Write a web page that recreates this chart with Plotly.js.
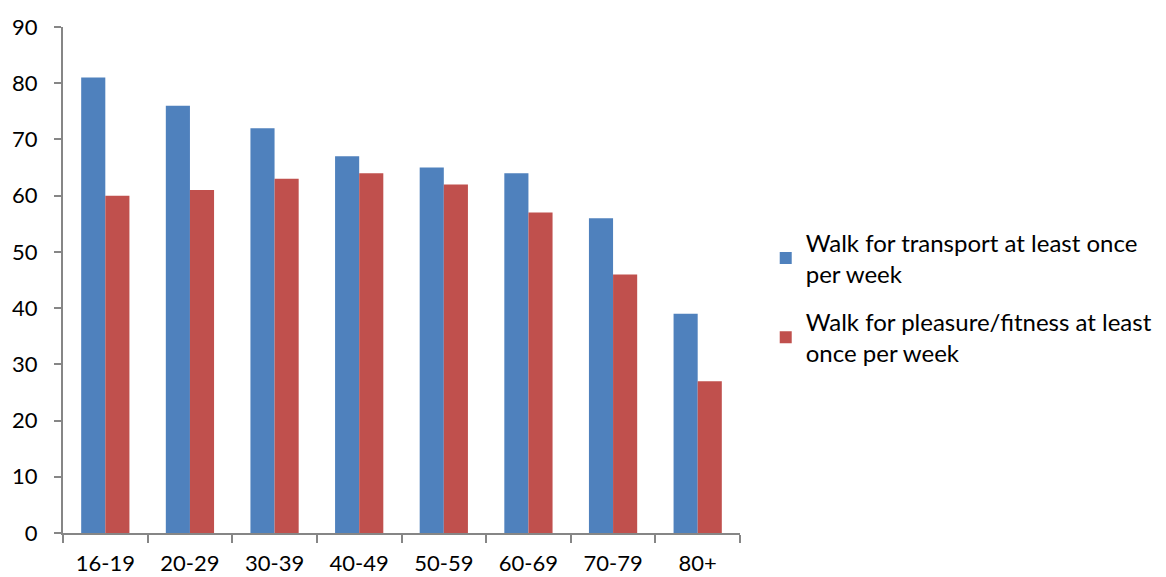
<!DOCTYPE html>
<html><head><meta charset="utf-8">
<script src="https://cdn.plot.ly/plotly-3.0.1.min.js"></script>
<style>html,body{margin:0;padding:0;background:#fff}</style>
</head><body>
<div id="chart" style="width:1166px;height:577px"></div>
<script>
const categories = ["16-19","20-29","30-39","40-49","50-59","60-69","70-79","80+"];
const transport = [81,76,72,67,65,64,56,39];
const pleasure = [60,61,63,64,62,57,46,27];
const seriesNames = ["Walk for transport at least once<br>per week","Walk for pleasure/fitness at least<br>once per week"];
const yTicks = [0,10,20,30,40,50,60,70,80,90];

const fontFam = "Lato, 'Open Sans', sans-serif";
const data = [
  {type:"bar", x:categories, y:transport, name:seriesNames[0], legendgroup:"a", marker:{color:"#4F81BD"}},
  {type:"bar", x:categories, y:pleasure, name:seriesNames[1], legendgroup:"b", marker:{color:"#C0504D"}}
];
const layout = {
  width:1166, height:577,
  margin:{l:63, r:426, t:27, b:44, autoexpand:false},
  paper_bgcolor:"#fff", plot_bgcolor:"#fff",
  barmode:"group", bargap:0.43, bargroupgap:0,
  font:{family:fontFam, size:22, color:"#000"},
  xaxis:{type:"category", showline:true, linecolor:"#868686", linewidth:2,
    ticks:"outside", tickson:"boundaries", ticklen:8, tickcolor:"#868686", tickwidth:2,
    tickfont:{size:22}, showgrid:false, zeroline:false, ticklabelstandoff:10},
  yaxis:{range:[0,90], tickvals:yTicks, showline:true, linecolor:"#868686", linewidth:2,
    ticks:"outside", ticklen:7, tickcolor:"#868686", tickwidth:2, showgrid:false, zeroline:false,
    tickfont:{size:22}, ticklabelstandoff:12},
  showlegend:true,
  legend:{x:1.038, xanchor:"left", y:0.465, yanchor:"middle", font:{size:24},
    tracegroupgap:14, itemwidth:30, bgcolor:"rgba(0,0,0,0)"}
};
Plotly.newPlot("chart", data, layout, {displayModeBar:false, staticPlot:true});
</script>
</body></html>
